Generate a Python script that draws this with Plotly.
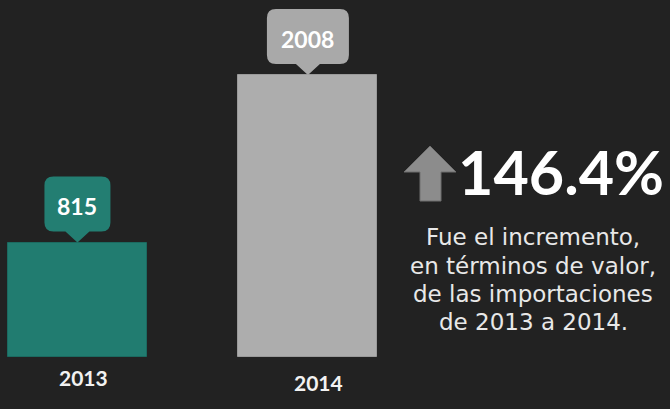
import plotly.graph_objects as go

# ---- data ----
years = ["2013", "2014"]
values = [815, 2008]
bar_colors = ["#217c70", "#adadad"]
callout_colors = ["#237e72", "#a9a9a9"]
headline = "146.4%"
description = ["Fue el incremento,", "en términos de valor,", "de las importaciones", "de 2013 a 2014."]

# ---- layout geometry ----
W, H = 670, 409
x_range = [-0.336, 2.571]
y_range = [-370.0, 2543.0]
px_per_x = W / (x_range[1] - x_range[0])
px_per_y = H / (y_range[1] - y_range[0])

def px(xp, yp):
    """pixel -> paper"""
    return xp / W, 1 - yp / H

xs = list(range(len(years)))

fig = go.Figure()
fig.add_trace(go.Bar(
    x=xs, y=values, width=0.603,
    marker=dict(color=bar_colors, line=dict(color=["#1b6a60", "#9a9a9a"], width=1)),
    hoverinfo="skip", showlegend=False,
))

shapes = []
annotations = []
tail_h, box_h, tail_w, r_px = 11, 55, 24, 9
for i, (x, v, lab, col) in enumerate(zip(xs, values, [str(v) for v in values], callout_colors)):
    w_px = 18 + 16 * len(lab)
    hw = w_px / 2 / px_per_x
    tw = tail_w / 2 / px_per_x
    rx = r_px / px_per_x
    ry = r_px / px_per_y
    yb = v + tail_h / px_per_y
    yt = yb + box_h / px_per_y
    x0, x1 = x - hw, x + hw
    path = (f"M {x0+rx},{yb} L {x-tw},{yb} L {x},{v} L {x+tw},{yb} L {x1-rx},{yb} "
            f"Q {x1},{yb} {x1},{yb+ry} L {x1},{yt-ry} Q {x1},{yt} {x1-rx},{yt} "
            f"L {x0+rx},{yt} Q {x0},{yt} {x0},{yt-ry} L {x0},{yb+ry} Q {x0},{yb} {x0+rx},{yb} Z")
    shapes.append(dict(type="path", path=path, xref="x", yref="y",
                       fillcolor=col, line=dict(width=0), layer="above"))
    annotations.append(dict(x=x, y=(yb + yt) / 2, xref="x", yref="y", text=f"<b>{lab}</b>",
                            showarrow=False, yshift=-2,
                            font=dict(family="Lato", size=23, color="#ffffff")))

# category labels under bars
label_shift = [(6, 392), (11, 397)]
for x, yr, (dx, yp) in zip(xs, years, label_shift):
    annotations.append(dict(x=x, y=px(0, yp)[1], xref="x", yref="paper", xshift=dx,
                            text=f"<b>{yr}</b>", showarrow=False,
                            font=dict(family="Lato", size=21, color="#f2f2f2")))

# arrow
ax_pts = [(430, 146), (456, 172), (441, 172), (441, 201), (420, 201), (420, 172), (404, 172)]
p = [px(a, b) for a, b in ax_pts]
arrow_path = "M " + " L ".join(f"{a},{b}" for a, b in p) + " Z"
shapes.append(dict(type="path", path=arrow_path, xref="paper", yref="paper",
                   fillcolor="#8c8c8c", line=dict(color="#6f6f6f", width=1)))

hx, hy = px(561, 171)
annotations.append(dict(x=hx, y=hy, xref="paper", yref="paper", text=f"<b>{headline}</b>",
                        showarrow=False, xanchor="center", yanchor="middle",
                        font=dict(family="Lato", size=61, color="#ffffff")))

line_y = [237, 266, 294, 322]
for txt, yp in zip(description, line_y):
    dx_, dy_ = px(533, yp)
    annotations.append(dict(x=dx_, y=dy_, xref="paper", yref="paper", text=txt,
                            showarrow=False, xanchor="center", yanchor="middle",
                            font=dict(family="DejaVu Sans", size=23, color="#e8e8e8")))

fig.update_layout(
    width=W, height=H, margin=dict(l=0, r=0, t=0, b=0),
    paper_bgcolor="#222222", plot_bgcolor="#222222",
    xaxis=dict(range=x_range, visible=False, fixedrange=True),
    yaxis=dict(range=y_range, visible=False, fixedrange=True),
    shapes=shapes, annotations=annotations, bargap=0,
)
fig.write_html("out.html", config={"displayModeBar": False},
               post_script="document.body.style.margin='0';document.body.style.background='#222222';")
